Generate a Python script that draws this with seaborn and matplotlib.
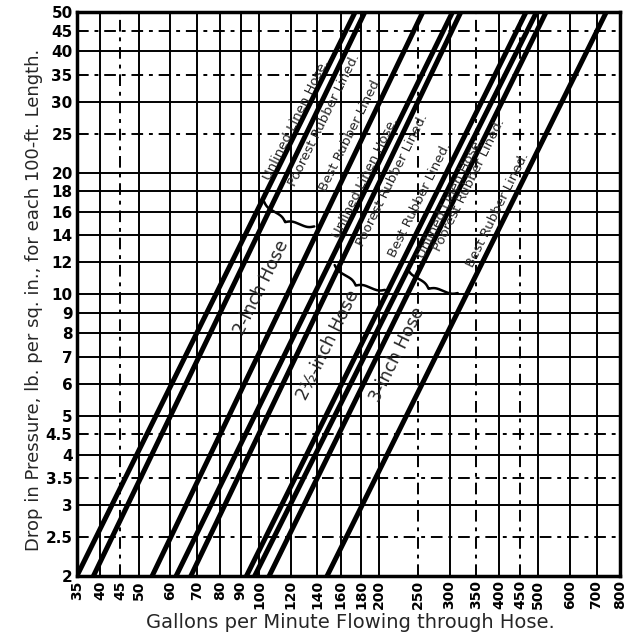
import numpy as np
import pandas as pd
import seaborn as sns
import matplotlib.pyplot as plt
from matplotlib.transforms import Affine2D

sns.set_theme(style="white")
plt.rcParams['font.family'] = ['DejaVu Sans']

# flow (gal/min) where each hose line meets the 2 lb. and 50 lb. edges
hose_size = ["2-inch"] * 3 + ["2½-inch"] * 3 + ["3-inch"] * 3
hose_kind = ["Unlined Linen Hose.", "Poorest Rubber Lined.", "Best Rubber Lined."] * 3
gpm_at_2lb = [35, 38.5, 54, 62, 67.5, 93, 97.5, 106, 148]
gpm_at_50lb = [174, 184, 257, 305, 320, 466, 495, 523, 740]
psi_ends = [2, 50]

x_ticks = [35, 40, 45, 50, 60, 70, 80, 90, 100, 120, 140, 160, 180, 200,
           250, 300, 350, 400, 450, 500, 600, 700, 800]
x_dashed = [45, 250, 350, 450]
y_ticks = [2, 2.5, 3, 3.5, 4, 4.5, 5, 6, 7, 8, 9, 10, 12, 14, 16, 18, 20,
           25, 30, 35, 40, 45, 50]
y_dashed = [2.5, 3.5, 4.5, 25, 35, 45]

# where the labels sit (gpm, psi)
label_gpm = [123.7, 145.3, 169.8, 184.1, 215, 252.7, 302, 335, 396]
label_psi = [27.1, 27.1, 24.9, 19.4, 19.2, 17.1, 17.3, 18.7, 16.2]
group_names = ["2-inch Hose", "2½-inch Hose", "3-inch Hose"]
group_gpm = [101.6, 148.7, 222.6]
group_psi = [10.4, 7.49, 7.07]
brace_gpm = [119, 178.8, 272]
brace_psi = [15.8, 11.0, 10.8]

rows = []
for i in range(len(gpm_at_2lb)):
    rows.append({"line": i, "gpm": gpm_at_2lb[i], "psi": psi_ends[0]})
    rows.append({"line": i, "gpm": gpm_at_50lb[i], "psi": psi_ends[1]})
df = pd.DataFrame(rows)

fig, ax = plt.subplots(figsize=(6.35, 6.43), dpi=100)
fig.subplots_adjust(left=0.121, right=0.976, bottom=0.104, top=0.981)

ax.set_xscale("log")
ax.set_yscale("log")
ax.set_xlim(35, 800)
ax.set_ylim(2, 50)

# grid, solid on the main values and dash-dot on the half values
for v in x_ticks:
    ls = (0, (6, 3, 2, 3)) if v in x_dashed else "-"
    ax.axvline(v, color="black", lw=1.4, ls=ls, zorder=1)
for v in y_ticks:
    ls = (0, (6, 3, 2, 3)) if v in y_dashed else "-"
    ax.axhline(v, color="black", lw=1.4, ls=ls, zorder=1)

sns.lineplot(data=df, x="gpm", y="psi", units="line", estimator=None,
             color="black", lw=3.6, legend=False, ax=ax, zorder=3)

ax.set_xticks(x_ticks)
ax.set_xticklabels([f"{v:g}" for v in x_ticks], rotation=90,
                   fontsize=10, fontweight="bold")
ax.set_yticks(y_ticks)
ax.set_yticklabels([f"{v:g}" for v in y_ticks], fontsize=11, fontweight="bold")
ax.minorticks_off()
ax.tick_params(length=0, pad=3, colors="black")
for s in ax.spines.values():
    s.set_color("black")
    s.set_linewidth(2.5)

ax.set_xlabel("Gallons per Minute Flowing through Hose.", fontsize=14)
ax.set_ylabel("Drop in Pressure, lb. per sq. in., for each 100-ft. Length.",
              fontsize=13)
ax.xaxis.set_label_coords(0.503, -0.066)
ax.yaxis.set_label_coords(-0.062, 0.49)

# slope of the lines on screen
p0 = ax.transData.transform((gpm_at_2lb[0], psi_ends[0]))
p1 = ax.transData.transform((gpm_at_50lb[0], psi_ends[1]))
ang = np.degrees(np.arctan2(p1[1] - p0[1], p1[0] - p0[0]))

for i, name in enumerate(hose_kind):
    ax.text(label_gpm[i], label_psi[i], name, rotation=ang, rotation_mode="anchor",
            ha="center", va="center", fontsize=9.5, zorder=4)

for i, name in enumerate(group_names):
    ax.text(group_gpm[i], group_psi[i], name, rotation=ang, rotation_mode="anchor",
            ha="center", va="center", fontsize=12.5, zorder=4)

# curly braces joining each group of labels
L, h, beta = 28, 9, 0.35
xh = np.linspace(0, L, 100)
half = 1 / (1 + np.exp(-beta * xh)) + 1 / (1 + np.exp(-beta * (xh - L)))
u = -h * (np.concatenate([half, half[::-1]]) - 0.5)
v = np.concatenate([xh - L, xh])
for bx, by in zip(brace_gpm, brace_psi):
    cx, cy = ax.transData.transform((bx, by))
    tr = Affine2D().rotate_deg(ang).translate(cx, cy)
    ax.plot(u, v, color="black", lw=1.8, transform=tr, clip_on=False, zorder=4)

fig.savefig("out.png", dpi=100)
